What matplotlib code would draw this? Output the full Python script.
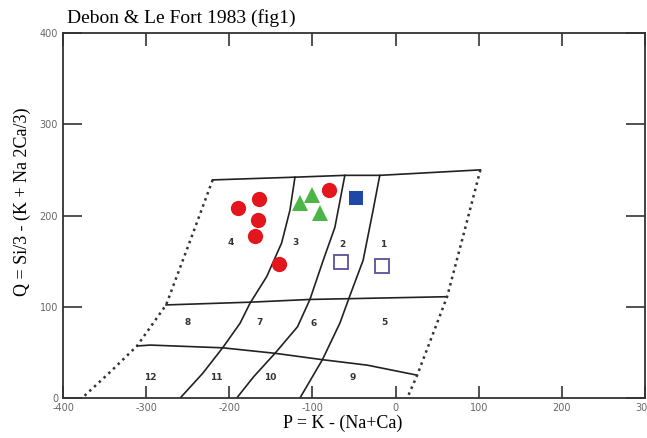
import numpy as np
import matplotlib
matplotlib.use("Agg")
import matplotlib.pyplot as plt

plt.rcParams["axes.unicode_minus"] = False

# --- diagram boundaries (P, Q) ---
top_line = [(-220, 239), (-121, 242), (-61, 244), (-19, 244), (102, 250)]
mid_line = [(-276, 102), (-175, 105), (-103, 108), (62, 111)]
low_line = [(-311, 57), (-295, 58), (-208, 55), (-145, 49), (-88, 42), (-34, 36), (26, 25)]
left_dash = [(-220, 239), (-248, 170), (-276, 102), (-311, 57), (-345, 27), (-377, 0)]
right_dash = [(102, 250), (82, 180), (62, 111), (44, 68), (26, 25), (14, 0)]
line_a = [(-121, 242), (-127, 206), (-137, 170), (-155, 133), (-175, 104),
          (-187, 82), (-208, 55), (-232, 27), (-259, 0)]
line_b = [(-61, 244), (-73, 187), (-87, 151), (-103, 108), (-118, 78),
          (-145, 49), (-171, 23), (-191, 0)]
line_c = [(-19, 244), (-27, 206), (-39, 151), (-55, 112), (-67, 82),
          (-88, 42), (-115, 0)]

region_names = ["1", "2", "3", "4", "5", "6", "7", "8", "9", "10", "11", "12"]
region_p = [-15, -64, -120, -198, -14, -99, -164, -250, -51, -151, -216, -295]
region_q = [168, 168, 170, 170, 83, 82, 83, 83, 22, 22, 22, 22]

# --- samples ---
circle_p = [-189, -164, -166, -169, -140, -80]
circle_q = [208, 218, 195, 177, 147, 228]
tri_p = [-115, -100, -91]
tri_q = [214, 223, 203]
sq_p = [-48]
sq_q = [219]
open_p = [-66, -16]
open_q = [149, 145]

fig = plt.figure(figsize=(6.47, 4.38), dpi=100)
ax = fig.add_axes([63 / 647, 40 / 438, 582 / 647, 365 / 438])

for pts in [top_line, mid_line, low_line, line_a, line_b, line_c]:
    p, q = zip(*pts)
    ax.plot(p, q, color="#222222", lw=1.2)
for pts in [left_dash, right_dash]:
    p, q = zip(*pts)
    ax.plot(p, q, color="#333333", lw=1.8, linestyle=(0, (1, 1.6)))

for name, p, q in zip(region_names, region_p, region_q):
    ax.text(p, q, name, fontsize=6.5, color="#333333", ha="center", va="center",
            fontweight="bold")

ax.plot(circle_p, circle_q, "o", color="#e3161d", markersize=11, markeredgewidth=0)
ax.plot(tri_p, tri_q, "^", color="#4bb545", markersize=11, markeredgewidth=0)
ax.plot(sq_p, sq_q, "s", color="#1f48a6", markersize=10, markeredgewidth=0)
ax.plot(open_p, open_q, "s", markerfacecolor="none", markeredgecolor="#5b4f9e",
        markersize=10, markeredgewidth=1.3)

ax.set_xlim(-400, 300)
ax.set_ylim(0, 400)
ax.set_xticks([-400, -300, -200, -100, 0, 100, 200, 300])
ax.set_yticks([0, 100, 200, 300, 400])
ax.tick_params(direction="in", length=9, width=1.2, color="#333333",
               labelsize=7, labelcolor="#666666", top=True, right=True)
ax.tick_params(axis="y", length=14)
for s in ax.spines.values():
    s.set_color("#333333")
    s.set_linewidth(1.3)

ax.set_xlabel("P = K - (Na+Ca)", family="Liberation Serif", fontsize=13)
ax.xaxis.set_label_coords((343 - 63) / 582, -0.045)
ax.set_ylabel("Q = Si/3 - (K + Na 2Ca/3)", family="Liberation Serif", fontsize=13)
ax.yaxis.set_label_coords(-(63 - 31) / 582, (398 - 202) / 365)
fig.text(67 / 647, 1 - 18 / 438, "Debon & Le Fort 1983 (fig1)",
         family="Liberation Serif", fontsize=14, va="center")

fig.savefig("out.png", dpi=100)
